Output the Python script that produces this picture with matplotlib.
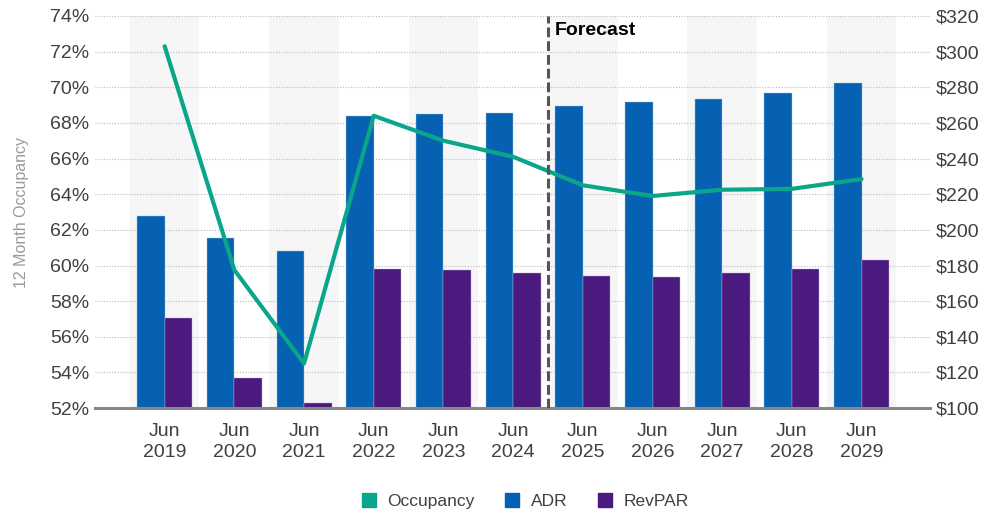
import numpy as np
import matplotlib.pyplot as plt
from matplotlib.lines import Line2D

plt.rcParams['font.family'] = ['Liberation Sans', 'DejaVu Sans']

years = ["2019", "2020", "2021", "2022", "2023", "2024",
         "2025", "2026", "2027", "2028", "2029"]
labels = ["Jun\n" + y for y in years]

occupancy = [72.3, 59.75, 54.5, 68.4, 67.0, 66.1, 64.5, 63.9, 64.25, 64.3, 64.85]
adr = [207.9, 195.4, 188.1, 263.6, 264.8, 265.7, 269.5, 271.6, 273.6, 276.8, 282.4]
revpar = [150.3, 116.7, 102.8, 177.8, 177.5, 175.8, 173.9, 173.5, 175.8, 177.8, 182.9]

c_occ = "#0AA68A"
c_adr = "#0661B3"
c_rev = "#4A1A7F"
c_txt = "#404040"

x = np.arange(len(years))

fig = plt.figure(figsize=(9.84, 5.14), dpi=100)
ax2 = fig.add_axes([0.0965, 0.206, 0.8485, 0.763])
ax = ax2.twinx()
# left (occupancy) axis in front, right (dollar) axis behind
ax.yaxis.tick_left()
ax.yaxis.set_label_position("left")
ax2.yaxis.tick_right()
ax.set_zorder(2)
ax2.set_zorder(1)
ax.patch.set_visible(False)

# alternating background bands
for i in range(0, len(years), 2):
    ax2.axvspan(i - 0.5, i + 0.5, color="#F6F6F6", zorder=0.2, lw=0)

w = 0.395
ax2.bar(x - w / 2, adr, width=w, color=c_adr, zorder=2,
        edgecolor="#9DC3E6", linewidth=0.3)
ax2.bar(x + w / 2, revpar, width=w, color=c_rev, zorder=2,
        edgecolor="#B9A6D3", linewidth=0.3)
ax2.set_ylim(100, 320)
ax2.set_yticks(np.arange(100, 321, 20))
ax2.set_yticklabels([f"${v}" for v in range(100, 321, 20)])
ax2.set_axisbelow(True)
ax2.yaxis.grid(True, ls=(0, (1, 1.5)), color="#BBBBBB", lw=0.8)

ax.plot(x, occupancy, color=c_occ, lw=3, solid_capstyle="round", zorder=3)
ax.set_ylim(52, 74)
ax.set_yticks(np.arange(52, 75, 2))
ax.set_yticklabels([f"{v}%" for v in range(52, 75, 2)])
ax.set_ylabel("12 Month Occupancy", color="#999999", fontsize=11.5, labelpad=15)

ax.axvline(5.5, color="#555555", lw=2.2, ls=(0, (3.2, 1.3)), zorder=4)
ax.text(5.6, 73.65, "Forecast", fontsize=14, fontweight="bold",
        color="black", va="top", ha="left")

ax2.set_xlim(-1, 10.98)
ax2.set_xticks(x)
ax2.set_xticklabels(labels, linespacing=1.25)

for a in (ax, ax2):
    for s in a.spines.values():
        s.set_visible(False)
    a.tick_params(length=0, labelsize=14, labelcolor=c_txt)
ax2.tick_params(axis="x", pad=11)
ax2.tick_params(axis="y", pad=4)
ax.tick_params(axis="y", pad=4)
ax2.spines["bottom"].set_visible(True)
ax2.spines["bottom"].set_color("#888888")
ax2.spines["bottom"].set_linewidth(2.2)

handles = [Line2D([], [], marker="s", ls="", color=c, markersize=10)
           for c in (c_occ, c_adr, c_rev)]
fig.legend(handles, ["Occupancy", "ADR", "RevPAR"], loc="center",
           bbox_to_anchor=(0.532, 0.024), ncol=3, frameon=False,
           fontsize=12.5, labelcolor=c_txt, columnspacing=1.6,
           handletextpad=0.45, handlelength=1.2)

fig.savefig("out.png", dpi=100)
